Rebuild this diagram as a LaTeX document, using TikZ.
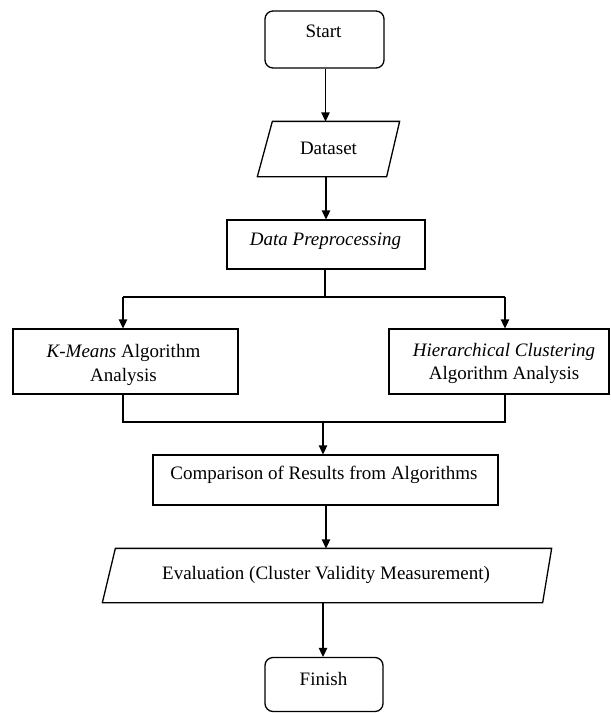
\documentclass[tikz,border=0pt]{standalone}
\usepackage{fontspec}
\setmainfont{Liberation Serif}
\usetikzlibrary{arrows.meta}
\begin{document}
\begin{tikzpicture}[x=1pt,y=-1pt,
  line width=1.3pt,
  box/.style={draw,rectangle,inner sep=0pt},
  roundbox/.style={draw,rectangle,rounded corners=8pt,inner sep=0pt},
  frame/.style={rectangle,inner sep=0pt},
  txt/.style={inner sep=0pt,font=\fontsize{19}{23.5}\selectfont,align=center},
  arr/.style={-{Triangle[length=9pt,width=8.5pt]}}]
\useasboundingbox (0,0) rectangle (611,713);
% shapes
\node[roundbox,minimum width=119pt,minimum height=57pt] (start) at (324.5,39.5) {};
\node[frame,minimum width=142pt,minimum height=54pt] (dataset) at (329,149) {};
\draw[line join=miter] ([xshift=15pt]dataset.north west) -- ([xshift=-1pt]dataset.north east)
  -- ([xshift=-14pt]dataset.south east) -- (dataset.south west) -- cycle;
\node[box,minimum width=198pt,minimum height=49pt] (prep) at (326,244.5) {};
\node[box,minimum width=225pt,minimum height=65pt] (kmeans) at (125.5,361.5) {};
\node[box,minimum width=220pt,minimum height=65pt] (hier) at (499,361.5) {};
\node[box,minimum width=345pt,minimum height=50pt] (comp) at (325.5,480) {};
\node[frame,minimum width=448pt,minimum height=53pt] (eval) at (327,575.5) {};
\draw ([xshift=13pt]eval.north west) -- (eval.north east)
  -- ([xshift=-9pt]eval.south east) -- (eval.south west) -- cycle;
\node[roundbox,minimum width=118pt,minimum height=54pt] (finish) at (324,684.5) {};
% texts
\node[txt,anchor=base] (tstart) at (323.5,37) {Start};
\node[txt,anchor=base] (tdataset) at (328.5,154) {Dataset};
\node[txt,anchor=base] (tprep) at (325.5,245) {\itshape Data Preprocessing};
\node[txt] (tkmeans) at (123.5,365) {\textit{K-Means} Algorithm\\Analysis};
\node[txt] (thier) at (504,363.5) {\textit{Hierarchical Clustering}\\Algorithm Analysis};
\node[txt,anchor=base] (tcomp) at (324,479) {Comparison of Results from Algorithms};
\node[txt,anchor=base] (teval) at (326,579) {Evaluation (Cluster Validity Measurement)};
\node[txt,anchor=base] (tfinish) at (323.5,685) {Finish};
% junctions
\coordinate (a1) at ([xshift=1pt]start.south);
\coordinate (a2) at ([xshift=-3pt]dataset.south);
\coordinate (a3) at ([xshift=-1pt]prep.south);
\coordinate (split) at (325,297);
\coordinate (kin) at ([xshift=-2.5pt]kmeans.north);
\coordinate (hin) at ([xshift=6pt]hier.north);
\coordinate (kout) at ([xshift=-2.5pt]kmeans.south);
\coordinate (hout) at ([xshift=6pt]hier.south);
\coordinate (merge) at (323,422);
\coordinate (a4) at ([xshift=0.5pt]comp.south);
\coordinate (a5) at ([xshift=-4pt]eval.south);
% connectors
\draw[arr] (a1) -- (a1 |- dataset.north);
\draw[arr] (a2) -- (a2 |- prep.north);
\draw (a3) -- (a3 |- split);
\draw[arr] (split -| kin) -- (kin);
\draw[arr] (split -| hin) -- (hin);
\draw (split -| kin) -- (split -| hin);
\draw (kout) |- (merge) -| (hout);
\draw[arr] (merge) -- (merge |- comp.north);
\draw[arr] (a4) -- (a4 |- eval.north);
\draw[arr] (a5) -- (a5 |- finish.north);
\end{tikzpicture}
\end{document}
